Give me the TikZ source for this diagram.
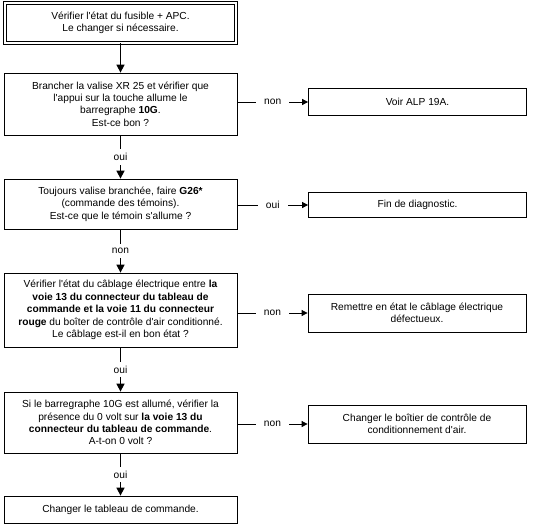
\documentclass[tikz,border=0pt]{standalone}
\usepackage{fontspec}
\setmainfont{Liberation Sans}[Ligatures=TeXOff]
\usetikzlibrary{arrows.meta}

\begin{document}
\begin{tikzpicture}[x=1pt,y=-1pt,
	box/.style={draw,line width=0.8pt,align=center,inner sep=0pt,font=\fontsize{10.2}{12.4}\selectfont},
	lbox/.style={box,minimum width=233pt},
	rbox/.style={box,minimum width=218pt},
	down/.style={line width=1.5pt,-{Triangle[length=8pt,width=8pt]}},
	side/.style={line width=0.8pt,-{Triangle[length=6pt,width=6pt]}},
	answer/.style={fill=white,inner xsep=8pt,inner ysep=4pt,font=\fontsize{10.2}{12.4}\selectfont}]
	\useasboundingbox (0,0) rectangle (534,527);

	% left column
	\node[lbox,double,double distance=1.6pt,minimum width=231pt,minimum height=40pt] (b1) at (120.5,23)
		{Vérifier l'état du fusible + APC.\\ Le changer si nécessaire.};
	\node[lbox,minimum height=62pt] (b2) at (120.5,104)
		{Brancher la valise XR 25 et vérifier que\\ l'appui sur la touche allume le\\ barregraphe \textbf{10G}.\\ Est-ce bon ?};
	\node[lbox,minimum height=50pt] (b3) at (120.5,204)
		{Toujours valise branchée, faire \textbf{G26*}\\ (commande des témoins).\\ Est-ce que le témoin s'allume ?};
	\node[lbox,minimum height=74pt] (b4) at (120.5,310)
		{Vérifier l'état du câblage électrique entre \textbf{la}\\ \textbf{voie 13 du connecteur du tableau de}\\ \textbf{commande et la voie 11 du connecteur}\\ \textbf{rouge} du boîter de contrôle d'air conditionné.\\ Le câblage est-il en bon état ?};
	\node[lbox,minimum height=61pt] (b5) at (120.5,422.5)
		{Si le barregraphe 10G est allumé, vérifier la\\ présence du 0 volt sur \textbf{la voie 13 du}\\ \textbf{connecteur du tableau de commande}.\\ A-t-on 0 volt ?};
	\node[lbox,minimum height=27pt] (b6) at (120.5,509.5)
		{Changer le tableau de commande.};

	% right column
	\node[rbox,minimum height=27pt] (r1) at (417.5,102) {Voir ALP 19A.};
	\node[rbox,minimum height=25pt] (r2) at (417.5,205) {Fin de diagnostic.};
	\node[rbox,minimum height=38pt] (r3) at (417,313)
		{Remettre en état le câblage électrique\\ défectueux.};
	\node[rbox,minimum height=38pt] (r4) at (417,424)
		{Changer le boîtier de contrôle de\\ conditionnement d'air.};

	% connectors
	\draw[down] (b1.south) -- (b2.north);
	\draw[down] (b2.south) -- node[answer] {oui} (b3.north);
	\draw[down] (b3.south) -- node[answer] {non} (b4.north);
	\draw[down] (b4.south) -- node[answer] {oui} (b5.north);
	\draw[down] (b5.south) -- node[answer] {oui} (b6.north);
	%
	\draw[side] (b2.east |- r1) -- node[answer] {non} (r1.west);
	\draw[side] (b3.east |- r2) -- node[answer] {oui} (r2.west);
	\draw[side] (b4.east |- r3) -- node[answer] {non} (r3.west);
	\draw[side] (b5.east |- r4) -- node[answer] {non} (r4.west);
\end{tikzpicture}
\end{document}
